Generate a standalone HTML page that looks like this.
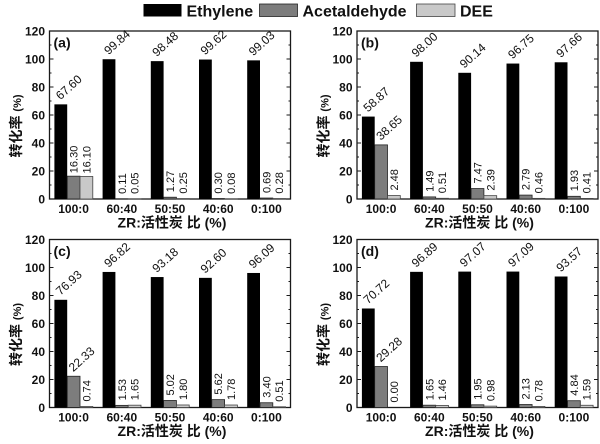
<!DOCTYPE html>
<html><head><meta charset="utf-8"><style>
html,body{margin:0;padding:0;background:#fff;}
svg{display:block;}
text{font-family:"Liberation Sans","Noto Sans CJK SC",sans-serif;fill:#111;}
.tk{font-size:12px;font-weight:bold;}
.xt{font-size:12px;font-weight:bold;text-anchor:middle;}
.ttl{font-size:14px;font-weight:bold;}
.pl{font-size:14px;font-weight:bold;}
.s{font-size:12px;}
.v{font-size:11px;}
.blk rect{fill:#000;}
.gry rect{fill:#7d7d7d;stroke:#222;stroke-width:0.8;}
.lgt rect{fill:#c9c9c9;stroke:#444;stroke-width:0.8;}
.lg{font-size:16px;font-weight:bold;}
</style></head><body>
<svg width="600" height="444" viewBox="0 0 600 444" xmlns="http://www.w3.org/2000/svg">
<rect width="600" height="444" fill="#fff"/>
<!-- legend -->
<rect x="143.5" y="4" width="38" height="12.5" fill="#000"/>
<text class="lg" x="186.5" y="16.5">Ethylene</text>
<rect x="259.5" y="4" width="38" height="12.5" fill="#7d7d7d" stroke="#222" stroke-width="0.8"/>
<text class="lg" x="302.5" y="16.5">Acetaldehyde</text>
<rect x="416.5" y="4" width="38.5" height="12.5" fill="#c9c9c9" stroke="#444" stroke-width="0.8"/>
<text class="lg" x="460" y="16.5">DEE</text>

<defs>
<g id="frame">
<rect x="49.5" y="31" width="241" height="168" fill="none" stroke="#1a1a1a" stroke-width="1.3"/>
<path d="M49.5,199h4M49.5,171h4M49.5,143h4M49.5,115h4M49.5,87h4M49.5,59h4M49.5,185h2M49.5,157h2M49.5,129h2M49.5,101h2M49.5,73h2M49.5,45h2M290.5,171h-4M290.5,143h-4M290.5,115h-4M290.5,87h-4M290.5,59h-4M290.5,185h-2M290.5,157h-2M290.5,129h-2M290.5,101h-2M290.5,73h-2M290.5,45h-2" stroke="#1a1a1a" stroke-width="1"/>
<text class="tk" x="45" y="203.3" text-anchor="end">0</text>
<text class="tk" x="45" y="175.3" text-anchor="end">20</text>
<text class="tk" x="45" y="147.3" text-anchor="end">40</text>
<text class="tk" x="45" y="119.3" text-anchor="end">60</text>
<text class="tk" x="45" y="91.3" text-anchor="end">80</text>
<text class="tk" x="45" y="63.3" text-anchor="end">100</text>
<text class="tk" x="45" y="35.3" text-anchor="end">120</text>
<text class="xt" x="73.6" y="213">100:0</text>
<text class="xt" x="121.8" y="213">60:40</text>
<text class="xt" x="170" y="213">50:50</text>
<text class="xt" x="218.2" y="213">40:60</text>
<text class="xt" x="266.4" y="213">0:100</text>
<text class="ttl" x="172" y="227.5" text-anchor="middle">ZR:活性炭 比 (%)</text>
<text transform="translate(21,126) rotate(-90)" text-anchor="middle"><tspan class="ttl">转化率</tspan><tspan font-size="11" font-weight="bold" dx="4">(%)</tspan></text>
</g>
</defs>

<!-- Panel a -->
<g>
<use href="#frame"/>
<text class="pl" x="53.5" y="47.5">(a)</text>
<g class="blk">
<rect x="54.4" y="104.36" width="12.8" height="94.64"/>
<rect x="102.6" y="59.22" width="12.8" height="139.78"/>
<rect x="150.8" y="61.13" width="12.8" height="137.87"/>
<rect x="199" y="59.53" width="12.8" height="139.47"/>
<rect x="247.2" y="60.36" width="12.8" height="138.64"/>
</g>
<g class="gry">
<rect x="67.2" y="176.18" width="12.8" height="22.82"/>
<rect x="115.4" y="198.85" width="12.8" height="0.15"/>
<rect x="163.6" y="197.22" width="12.8" height="1.78"/>
<rect x="211.8" y="198.58" width="12.8" height="0.42"/>
<rect x="260" y="198.03" width="12.8" height="0.97"/>
</g>
<g class="lgt">
<rect x="80" y="176.46" width="12.8" height="22.54"/>
<rect x="128.2" y="198.93" width="12.8" height="0.07"/>
<rect x="176.4" y="198.65" width="12.8" height="0.35"/>
<rect x="224.6" y="198.89" width="12.8" height="0.11"/>
<rect x="272.8" y="198.61" width="12.8" height="0.39"/>
</g>
<text class="s" transform="translate(60.4,100.4) rotate(-42)">67.60</text>
<text class="s" transform="translate(108.6,55.2) rotate(-42)">99.84</text>
<text class="s" transform="translate(156.8,57.1) rotate(-42)">98.48</text>
<text class="s" transform="translate(205,55.5) rotate(-42)">99.62</text>
<text class="s" transform="translate(253.2,56.4) rotate(-42)">99.03</text>
<text class="v" transform="translate(77.6,173.2) rotate(-90)">16.30</text>
<text class="v" transform="translate(125.8,193.9) rotate(-90)">0.11</text>
<text class="v" transform="translate(174,192.2) rotate(-90)">1.27</text>
<text class="v" transform="translate(222.2,193.6) rotate(-90)">0.30</text>
<text class="v" transform="translate(270.4,193) rotate(-90)">0.69</text>
<text class="v" transform="translate(90.4,173.5) rotate(-90)">16.10</text>
<text class="v" transform="translate(138.6,193.9) rotate(-90)">0.05</text>
<text class="v" transform="translate(186.8,193.6) rotate(-90)">0.25</text>
<text class="v" transform="translate(235,193.9) rotate(-90)">0.08</text>
<text class="v" transform="translate(283.2,193.6) rotate(-90)">0.28</text>
</g>

<!-- Panel b -->
<g transform="translate(307.5,0)">
<use href="#frame"/>
<text class="pl" x="53.5" y="47.5">(b)</text>
<g class="blk">
<rect x="54.4" y="116.58" width="12.8" height="82.42"/>
<rect x="102.6" y="61.8" width="12.8" height="137.2"/>
<rect x="150.8" y="72.8" width="12.8" height="126.2"/>
<rect x="199" y="63.55" width="12.8" height="135.45"/>
<rect x="247.2" y="62.28" width="12.8" height="136.72"/>
</g>
<g class="gry">
<rect x="67.2" y="144.89" width="12.8" height="54.11"/>
<rect x="115.4" y="196.91" width="12.8" height="2.09"/>
<rect x="163.6" y="188.54" width="12.8" height="10.46"/>
<rect x="211.8" y="195.09" width="12.8" height="3.91"/>
<rect x="260" y="196.3" width="12.8" height="2.7"/>
</g>
<g class="lgt">
<rect x="80" y="195.53" width="12.8" height="3.47"/>
<rect x="128.2" y="198.29" width="12.8" height="0.71"/>
<rect x="176.4" y="195.65" width="12.8" height="3.35"/>
<rect x="224.6" y="198.36" width="12.8" height="0.64"/>
<rect x="272.8" y="198.43" width="12.8" height="0.57"/>
</g>
<text class="s" transform="translate(60.4,112.6) rotate(-42)">58.87</text>
<text class="s" transform="translate(108.6,57.8) rotate(-42)">98.00</text>
<text class="s" transform="translate(156.8,68.8) rotate(-42)">90.14</text>
<text class="s" transform="translate(205,59.5) rotate(-42)">96.75</text>
<text class="s" transform="translate(253.2,58.3) rotate(-42)">97.66</text>
<text class="s" transform="translate(73.2,140.9) rotate(-42)">38.65</text>
<text class="v" transform="translate(125.8,191.9) rotate(-90)">1.49</text>
<text class="v" transform="translate(174,183.5) rotate(-90)">7.47</text>
<text class="v" transform="translate(222.2,190.1) rotate(-90)">2.79</text>
<text class="v" transform="translate(270.4,191.3) rotate(-90)">1.93</text>
<text class="v" transform="translate(90.4,190.5) rotate(-90)">2.48</text>
<text class="v" transform="translate(138.6,193.3) rotate(-90)">0.51</text>
<text class="v" transform="translate(186.8,190.6) rotate(-90)">2.39</text>
<text class="v" transform="translate(235,193.4) rotate(-90)">0.46</text>
<text class="v" transform="translate(283.2,193.4) rotate(-90)">0.41</text>
</g>

<!-- Panel c -->
<g transform="translate(0,208.5)">
<use href="#frame"/>
<text class="pl" x="53.5" y="47.5">(c)</text>
<g class="blk">
<rect x="54.4" y="91.3" width="12.8" height="107.7"/>
<rect x="102.6" y="63.45" width="12.8" height="135.55"/>
<rect x="150.8" y="68.55" width="12.8" height="130.45"/>
<rect x="199" y="69.36" width="12.8" height="129.64"/>
<rect x="247.2" y="64.47" width="12.8" height="134.53"/>
</g>
<g class="gry">
<rect x="67.2" y="167.74" width="12.8" height="31.26"/>
<rect x="115.4" y="196.86" width="12.8" height="2.14"/>
<rect x="163.6" y="191.97" width="12.8" height="7.03"/>
<rect x="211.8" y="191.13" width="12.8" height="7.87"/>
<rect x="260" y="194.24" width="12.8" height="4.76"/>
</g>
<g class="lgt">
<rect x="80" y="197.96" width="12.8" height="1.04"/>
<rect x="128.2" y="196.69" width="12.8" height="2.31"/>
<rect x="176.4" y="196.48" width="12.8" height="2.52"/>
<rect x="224.6" y="196.51" width="12.8" height="2.49"/>
<rect x="272.8" y="198.29" width="12.8" height="0.71"/>
</g>
<text class="s" transform="translate(60.4,87.3) rotate(-42)">76.93</text>
<text class="s" transform="translate(108.6,59.5) rotate(-42)">96.82</text>
<text class="s" transform="translate(156.8,64.6) rotate(-42)">93.18</text>
<text class="s" transform="translate(205,65.4) rotate(-42)">92.60</text>
<text class="s" transform="translate(253.2,60.5) rotate(-42)">96.09</text>
<text class="s" transform="translate(73.2,163.7) rotate(-42)">22.33</text>
<text class="v" transform="translate(125.8,191.9) rotate(-90)">1.53</text>
<text class="v" transform="translate(174,187) rotate(-90)">5.02</text>
<text class="v" transform="translate(222.2,186.1) rotate(-90)">5.62</text>
<text class="v" transform="translate(270.4,189.2) rotate(-90)">3.40</text>
<text class="v" transform="translate(90.4,193) rotate(-90)">0.74</text>
<text class="v" transform="translate(138.6,191.7) rotate(-90)">1.65</text>
<text class="v" transform="translate(186.8,191.5) rotate(-90)">1.80</text>
<text class="v" transform="translate(235,191.5) rotate(-90)">1.78</text>
<text class="v" transform="translate(283.2,193.3) rotate(-90)">0.51</text>
</g>

<!-- Panel d -->
<g transform="translate(307.5,208.5)">
<use href="#frame"/>
<text class="pl" x="53.5" y="47.5">(d)</text>
<g class="blk">
<rect x="54.4" y="99.99" width="12.8" height="99.01"/>
<rect x="102.6" y="63.35" width="12.8" height="135.65"/>
<rect x="150.8" y="63.1" width="12.8" height="135.9"/>
<rect x="199" y="63.07" width="12.8" height="135.93"/>
<rect x="247.2" y="68" width="12.8" height="131"/>
</g>
<g class="gry">
<rect x="67.2" y="158.01" width="12.8" height="40.99"/>
<rect x="115.4" y="196.69" width="12.8" height="2.31"/>
<rect x="163.6" y="196.27" width="12.8" height="2.73"/>
<rect x="211.8" y="196.02" width="12.8" height="2.98"/>
<rect x="260" y="192.22" width="12.8" height="6.78"/>
</g>
<g class="lgt">
<rect x="128.2" y="196.96" width="12.8" height="2.04"/>
<rect x="176.4" y="197.63" width="12.8" height="1.37"/>
<rect x="224.6" y="197.91" width="12.8" height="1.09"/>
<rect x="272.8" y="196.77" width="12.8" height="2.23"/>
</g>
<text class="s" transform="translate(60.4,96) rotate(-42)">70.72</text>
<text class="s" transform="translate(108.6,59.4) rotate(-42)">96.89</text>
<text class="s" transform="translate(156.8,59.1) rotate(-42)">97.07</text>
<text class="s" transform="translate(205,59.1) rotate(-42)">97.09</text>
<text class="s" transform="translate(253.2,64) rotate(-42)">93.57</text>
<text class="s" transform="translate(73.2,154) rotate(-42)">29.28</text>
<text class="v" transform="translate(125.8,191.7) rotate(-90)">1.65</text>
<text class="v" transform="translate(174,191.3) rotate(-90)">1.95</text>
<text class="v" transform="translate(222.2,191) rotate(-90)">2.13</text>
<text class="v" transform="translate(270.4,187.2) rotate(-90)">4.84</text>
<text class="v" transform="translate(90.4,194) rotate(-90)">0.00</text>
<text class="v" transform="translate(138.6,192) rotate(-90)">1.46</text>
<text class="v" transform="translate(186.8,192.6) rotate(-90)">0.98</text>
<text class="v" transform="translate(235,192.9) rotate(-90)">0.78</text>
<text class="v" transform="translate(283.2,191.8) rotate(-90)">1.59</text>
</g>
</svg>
</body></html>
